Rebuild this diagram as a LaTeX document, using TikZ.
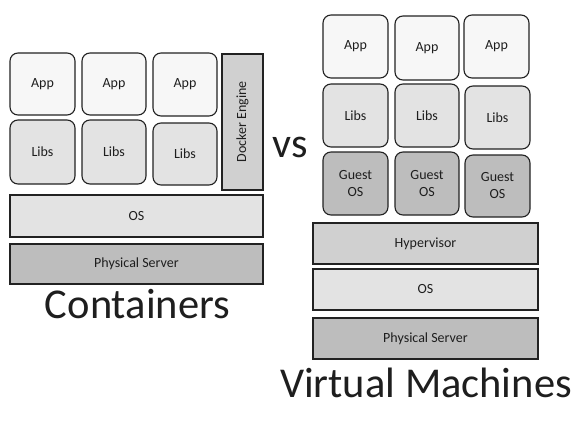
\documentclass[tikz,border=0pt]{standalone}
\usepackage{fontspec}
\setmainfont{Carlito}
\definecolor{appfill}{HTML}{F7F7F7}
\definecolor{libfill}{HTML}{E3E3E3}
\definecolor{guestfill}{HTML}{BDBDBD}
\definecolor{midfill}{HTML}{D0D0D0}
\definecolor{edge}{HTML}{222222}
\definecolor{txt}{HTML}{1E1E1E}
\begin{document}
\begin{tikzpicture}[x=1pt,y=-1pt,
  box/.style={draw=edge,line width=1.1pt,inner sep=0pt,text=txt,font=\fontsize{14}{17}\selectfont,align=center},
  rbox/.style={box,rounded corners=8pt,minimum width=65pt,minimum height=63pt},
  bar/.style={box,minimum height=41pt},
  big/.style={font=\fontsize{42.5}{46}\selectfont,text=txt,anchor=base,inner sep=0pt}]
\useasboundingbox (0,0) rectangle (587,423);
% Containers
\node[rbox,fill=appfill,minimum height=62pt] (capp1) at (42.5,84) {App};
\node[rbox,fill=appfill,minimum height=62pt,minimum width=64pt] (capp2) at (114,84) {App};
\node[rbox,fill=appfill,minimum height=63pt,minimum width=64pt] (capp3) at (185,84.5) {App};
\node[rbox,fill=libfill,minimum height=64pt] (clib1) at (42.5,152) {Libs};
\node[rbox,fill=libfill,minimum height=64pt,minimum width=64pt] (clib2) at (114,152) {Libs};
\node[rbox,fill=libfill,minimum height=62pt,minimum width=64pt] (clib3) at (185,154) {Libs};
\node[box,fill=midfill,minimum width=41pt,minimum height=136pt] (docker) at (242.5,122) {};
\node[text=txt,font=\fontsize{14}{16}\selectfont,rotate=90,inner sep=0pt] (dockertxt) at (docker.center) {Docker Engine};
\node[bar,fill=libfill,minimum width=253pt,minimum height=42pt] (cos) at (136.5,216) {OS};
\node[bar,fill=guestfill,minimum width=253pt,minimum height=40pt] (cphys) at (136.5,264) {Physical Server};
\node[big] (ctitle) at (137.5,318) {Containers};
% vs
\node[font=\fontsize{42}{46}\selectfont,text=txt,anchor=base,inner sep=0pt] (vs) at (290,157) {vs};
% Virtual machines
\node[rbox,fill=appfill] (vapp1) at (355.5,46.5) {App};
\node[rbox,fill=appfill,minimum width=64pt,minimum height=64pt] (vapp2) at (427,48) {App};
\node[rbox,fill=appfill] (vapp3) at (496.5,46.5) {App};
\node[rbox,fill=libfill] (vlib1) at (355.5,115.5) {Libs};
\node[rbox,fill=libfill,minimum width=64pt] (vlib2) at (427,115.5) {Libs};
\node[rbox,fill=libfill] (vlib3) at (497.5,117.5) {Libs};
\node[rbox,fill=guestfill] (vguest1) at (355.5,183.5) {Guest\\OS};
\node[rbox,fill=guestfill,minimum width=64pt] (vguest2) at (427,183.5) {Guest\\OS};
\node[rbox,fill=guestfill,minimum height=62pt] (vguest3) at (497.5,186) {Guest\\OS};
\node[bar,fill=midfill,minimum width=225pt] (hyper) at (425.5,243.5) {Hypervisor};
\node[bar,fill=libfill,minimum width=225pt] (vos) at (425.5,289.5) {OS};
\node[bar,fill=guestfill,minimum width=225pt] (vphys) at (425.5,338.5) {Physical Server};
\node[big] (vtitle) at (426,397) {Virtual Machines};
\end{tikzpicture}
\end{document}
